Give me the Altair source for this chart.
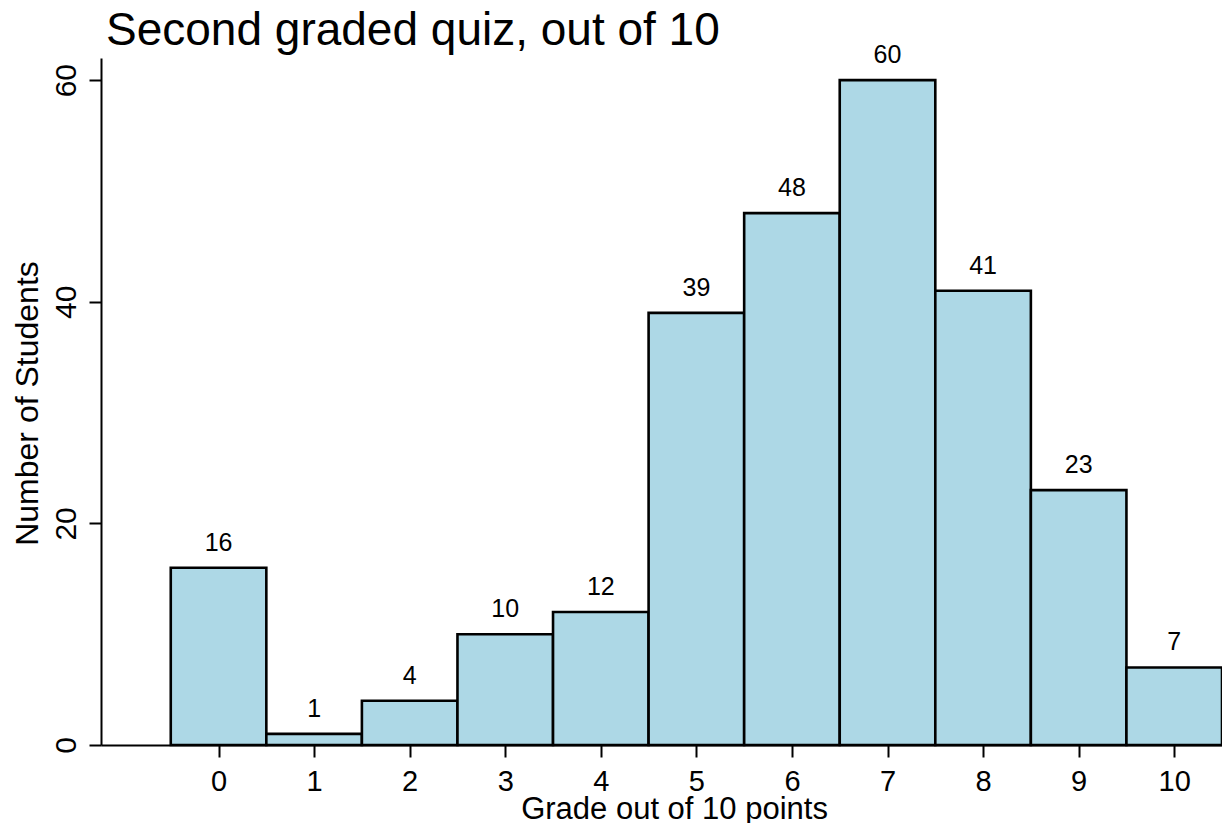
import altair as alt
import pandas as pd

grades = [0, 1, 2, 3, 4, 5, 6, 7, 8, 9, 10]
counts = [16, 1, 4, 10, 12, 39, 48, 60, 41, 23, 7]
x_ticks = [0, 1, 2, 3, 4, 5, 6, 7, 8, 9, 10]
y_ticks = [0, 20, 40, 60]

df = pd.DataFrame({"grade": grades, "count": counts})
df["lo"] = df["grade"] - 0.5
df["hi"] = df["grade"] + 0.5

FONT = "Liberation Sans"

xscale = alt.Scale(domain=[-1.23, 10.5], nice=False, zero=False)
yscale = alt.Scale(domain=[0, 62], nice=False)

base = alt.Chart(df)

bars = base.mark_rect(fill="#ADD8E6", stroke="black", strokeWidth=2.6).encode(
    x=alt.X(
        "lo:Q",
        scale=xscale,
        axis=alt.Axis(
            values=x_ticks,
            format="d",
            title="Grade out of 10 points",
            titleFont=FONT,
            titleFontSize=31,
            titleFontWeight="normal",
            titleColor="black",
            titleX=573,
            titleY=73,
            titleAlign="center",
            titleBaseline="alphabetic",
            labelFont=FONT,
            labelFontSize=29,
            labelColor="black",
            labelBaseline="alphabetic",
            labelPadding=33,
            labelFlush=False,
            labelOverlap=False,
            tickSize=12,
            tickWidth=2,
            tickColor="black",
            domainColor="black",
            domainWidth=2,
            grid=False,
        ),
    ),
    x2="hi:Q",
    y=alt.Y(
        "count:Q",
        scale=yscale,
        axis=alt.Axis(
            values=y_ticks,
            format="d",
            title="Number of Students",
            titleFont=FONT,
            titleFontSize=32,
            titleFontWeight="normal",
            titleColor="black",
            titleAngle=270,
            titleX=-64,
            titleY=345,
            titleAlign="center",
            titleBaseline="alphabetic",
            labelFont=FONT,
            labelFontSize=30,
            labelColor="black",
            labelAngle=270,
            labelAlign="center",
            labelBaseline="alphabetic",
            labelPadding=14,
            labelFlush=False,
            labelOverlap=False,
            tickSize=12,
            tickWidth=2,
            tickColor="black",
            domainColor="black",
            domainWidth=2,
            grid=False,
        ),
    ),
    y2=alt.datum(0),
)

labels = base.mark_text(
    font=FONT, fontSize=25, color="black", baseline="alphabetic", align="center", dy=-17
).encode(
    x=alt.X("grade:Q", scale=xscale),
    y=alt.Y("count:Q", scale=yscale),
    text=alt.Text("count:Q"),
)

chart = (
    alt.layer(bars, labels)
    .properties(
        width=1121,
        height=687,
        autosize=alt.AutoSizeParams(type="none"),
        padding={"left": 93, "top": 50, "right": 0, "bottom": 78},
        title=alt.TitleParams(
            "Second graded quiz, out of 10",
            font=FONT,
            fontSize=46,
            fontWeight="normal",
            color="black",
            anchor="start",
            frame="group",
            offset=5,
            dx=5,
            dy=17,
        ),
    )
    .configure_view(stroke=None)
)

chart.save("out.html", embed_options={"renderer": "svg", "actions": False})
